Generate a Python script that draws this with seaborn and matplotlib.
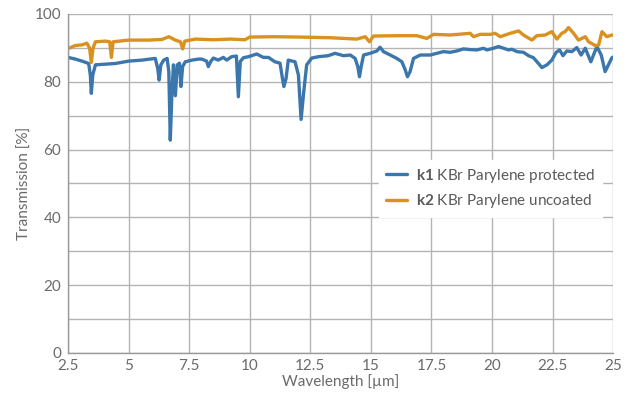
import matplotlib
matplotlib.use("Agg")
import matplotlib.pyplot as plt
import pandas as pd
import seaborn as sns
from matplotlib.ticker import MultipleLocator

# k1 KBr Parylene protected (blue)
k1_wavelength = [
    2.5, 2.8, 3.08, 3.35, 3.42, 3.46, 3.52, 3.63, 4.04, 4.45, 5.0, 5.55, 6.1,
    6.2, 6.26, 6.33, 6.45, 6.59, 6.66, 6.72, 6.79, 6.85, 6.93, 7.01, 7.1, 7.16,
    7.23, 7.34, 7.62, 7.89, 8.02, 8.22, 8.29, 8.4, 8.5, 8.7, 8.91, 9.05, 9.25,
    9.45, 9.53, 9.61, 9.74, 9.94, 10.29, 10.56, 10.77, 11.04, 11.25, 11.35,
    11.41, 11.5, 11.59, 11.87, 12.01, 12.12, 12.23, 12.35, 12.56, 12.83, 13.24,
    13.52, 13.87, 14.15, 14.35, 14.46, 14.53, 14.6, 14.7, 14.97, 15.25, 15.38,
    15.52, 15.8, 16.07, 16.28, 16.42, 16.51, 16.62, 16.76, 17.04, 17.45, 17.72,
    18.0, 18.27, 18.55, 18.82, 19.1, 19.38, 19.65, 19.79, 20.06, 20.27, 20.48,
    20.68, 20.82, 21.03, 21.3, 21.51, 21.71, 21.92, 22.06, 22.27, 22.47, 22.65,
    22.79, 22.93, 23.09, 23.3, 23.5, 23.68, 23.85, 24.08, 24.33, 24.51, 24.67,
    24.95, 25.0,
]
k1_transmission = [
    87.2, 86.7, 86.1, 85.4, 82.0, 76.6, 82.0, 85.0, 85.2, 85.4, 86.1, 86.4, 86.9,
    84.0, 80.5, 85.0, 86.4, 86.9, 83.0, 62.8, 77.1, 85.0, 75.9, 85.0, 85.5, 78.6,
    84.5, 85.9, 86.4, 86.7, 86.7, 86.1, 84.5, 86.1, 87.0, 86.4, 87.2, 86.4, 87.4,
    87.6, 75.6, 86.0, 87.1, 87.4, 88.2, 87.2, 87.2, 85.9, 85.5, 81.0,
    78.6, 81.0, 86.4, 85.9, 82.0, 68.9, 77.1, 85.0, 87.0, 87.4, 87.7,
    88.4, 87.7, 87.9, 86.9, 84.5, 81.5, 84.5, 87.9, 88.4, 89.1, 90.2,
    88.9, 87.9, 86.9, 85.9, 83.5, 81.5, 83.0, 86.9, 87.9, 87.9, 88.4,
    88.9, 88.7, 89.1, 89.7, 89.5, 89.4, 89.9, 89.4, 89.9, 90.4, 89.9,
    89.4, 89.6, 88.9, 88.7, 87.7, 87.1, 85.4, 84.2, 85.0, 86.4, 88.7,
    89.4, 87.7, 89.1, 88.9, 90.1, 87.9, 89.9, 85.9, 90.4, 87.9, 83.0,
    87.1, 87.3,
]

# k2 KBr Parylene uncoated (orange)
k2_wavelength = [
    2.5, 2.8, 3.08, 3.28, 3.39, 3.46, 3.53, 3.63, 4.04, 4.22, 4.29, 4.36, 5.0,
    5.83, 6.38, 6.66, 6.93, 7.14, 7.23, 7.32, 7.76, 8.5, 9.2, 9.8, 10.0, 11.0,
    12.0, 12.7, 13.32, 13.87, 14.42, 14.77, 14.94, 15.11, 16.07, 16.9, 17.31,
    17.59, 18.27, 19.1, 19.24, 19.51, 19.93, 20.13, 20.34, 20.75, 21.1, 21.3,
    21.65, 21.85, 22.2, 22.47, 22.68, 22.88, 23.02, 23.16, 23.37, 23.57, 23.85,
    23.99, 24.26, 24.4, 24.54, 24.74, 24.95, 25.0,
]
k2_transmission = [
    89.8, 90.7, 90.9, 91.4, 89.9, 85.7, 89.9, 91.8, 92.0, 91.8, 87.2, 91.8, 92.3,
    92.3, 92.5, 93.3, 92.3, 91.8, 89.7, 92.0, 92.6, 92.4, 92.6, 92.4, 93.2, 93.3,
    93.2, 93.1, 93.0, 92.8, 92.6, 93.3, 91.8, 93.5, 93.6, 93.6, 92.8,
    94.0, 93.8, 94.3, 93.3, 94.0, 94.0, 94.3, 93.3, 94.3, 95.0, 93.8,
    92.3, 93.6, 93.8, 94.8, 92.6, 94.3, 94.8, 96.0, 94.3, 92.3, 93.3,
    91.8, 90.7, 90.8, 94.8, 93.3, 93.8, 93.8,
]

series_names = [
    r"$\mathbf{k1}$ KBr Parylene protected",
    r"$\mathbf{k2}$ KBr Parylene uncoated",
]
colors = ["#3b77ad", "#d9911f"]
x_ticks = [2.5, 5, 7.5, 10, 12.5, 15, 17.5, 20, 22.5, 25]
x_tick_labels = ["2.5", "5", "7.5", "10", "12.5", "15", "17.5", "20", "22.5", "25"]

df = pd.concat(
    [
        pd.DataFrame({"wavelength": k1_wavelength, "transmission": k1_transmission,
                      "sample": series_names[0]}),
        pd.DataFrame({"wavelength": k2_wavelength, "transmission": k2_transmission,
                      "sample": series_names[1]}),
    ],
    ignore_index=True,
)

sns.set_style("white")
plt.rcParams["font.family"] = ["Lato", "DejaVu Sans"]
plt.rcParams["mathtext.fontset"] = "custom"
plt.rcParams["mathtext.rm"] = "Lato"
plt.rcParams["mathtext.bf"] = "Lato:bold"

text_color = "#6a6a6a"
grid_color = "#b4b4b4"

fig = plt.figure(figsize=(6.36, 4.0), dpi=100)
ax = fig.add_axes([0.107, 0.1175, 0.857, 0.8475])

sns.lineplot(
    data=df,
    x="wavelength",
    y="transmission",
    hue="sample",
    palette=colors,
    estimator=None,
    linewidth=2.4,
    ax=ax,
)

ax.set_xlim(2.5, 25)
ax.set_ylim(0, 100)
ax.set_xticks(x_ticks)
ax.set_xticklabels(x_tick_labels)
ax.yaxis.set_major_locator(MultipleLocator(20))
ax.yaxis.set_minor_locator(MultipleLocator(10))
ax.grid(which="both", color=grid_color, linewidth=1.0)
ax.set_axisbelow(True)
ax.tick_params(which="both", length=0, labelsize=11, labelcolor=text_color)
ax.tick_params(axis="y", pad=5)
ax.tick_params(axis="x", pad=4)

for side in ["top", "right"]:
    ax.spines[side].set_visible(False)
for side in ["left", "bottom"]:
    ax.spines[side].set_color("#999999")
    ax.spines[side].set_linewidth(1.0)

ax.set_xlabel("Wavelength [µm]", fontsize=11, color=text_color, labelpad=1)
ax.set_ylabel("Transmission [%]", fontsize=11, color=text_color, labelpad=2)

leg = ax.legend(
    loc="upper left",
    bbox_to_anchor=(0.556, 0.592),
    frameon=True,
    facecolor="white",
    edgecolor="white",
    framealpha=1,
    fancybox=False,
    fontsize=11,
    handlelength=1.4,
    handletextpad=0.6,
    labelspacing=0.5,
    borderpad=0.45,
    title=None,
)
for t in leg.get_texts():
    t.set_color("#5a5a5a")
for line in leg.get_lines():
    line.set_linewidth(2.4)

fig.savefig("out.png", dpi=100)
